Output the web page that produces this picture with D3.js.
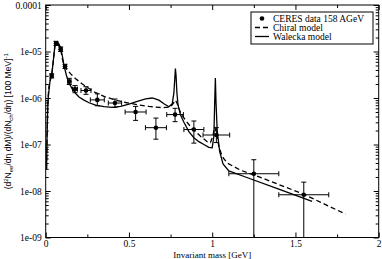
<!DOCTYPE html>
<html>
<head>
<meta charset="utf-8">
<script src="https://cdn.jsdelivr.net/npm/d3@7"></script>
<style>
  body { margin: 0; background: #fff; }
  svg { display: block; }
</style>
</head>
<body>
<script>
// CERES data points
const ceresMass = [0.036, 0.062, 0.09, 0.116, 0.142, 0.176, 0.242, 0.31, 0.416, 0.54, 0.662, 0.777, 0.89, 1.025, 1.25, 1.55];
const ceresYield = [3.0e-6, 1.5e-5, 1.12e-5, 4.8e-6, 2.27e-6, 1.55e-6, 1.45e-6, 9.1e-7, 7.8e-7, 5.0e-7, 2.3e-7, 4.4e-7, 2.1e-7, 1.6e-7, 2.35e-8, 8.3e-9];
const ceresMassErr = [0.008, 0.008, 0.008, 0.008, 0.01, 0.015, 0.03, 0.042, 0.04, 0.063, 0.063, 0.05, 0.06, 0.08, 0.15, 0.15];
const ceresYieldLo = [2.7e-6, 1.35e-5, 1.0e-5, 4.3e-6, 1.95e-6, 1.3e-6, 1.2e-6, 6.8e-7, 6.3e-7, 3.3e-7, 1.3e-7, 3.1e-7, 1.07e-7, 1.1e-7, 0, 0];
const ceresYieldHi = [3.3e-6, 1.65e-5, 1.25e-5, 5.3e-6, 2.65e-6, 1.85e-6, 1.75e-6, 1.23e-6, 9.5e-7, 6.6e-7, 3.7e-7, 6.0e-7, 3.2e-7, 2.3e-7, 4.7e-8, 1.55e-8];

// Chiral model (dashed)
const chiralMass = [0.005, 0.009, 0.013, 0.018, 0.028, 0.036, 0.045, 0.055, 0.063, 0.075, 0.09, 0.1, 0.11, 0.125, 0.15, 0.18, 0.22, 0.26, 0.3, 0.36, 0.42, 0.48, 0.55, 0.62, 0.7, 0.75, 0.77, 0.78, 0.79, 0.81, 0.84, 0.88, 0.93, 0.97, 0.99, 1.005, 1.015, 1.025, 1.04, 1.06, 1.09, 1.17, 1.3, 1.55, 1.8];
const chiralYield = [3e-8, 2e-7, 8e-7, 1.6e-6, 2.6e-6, 3.0e-6, 6e-6, 1.3e-5, 1.55e-5, 1.45e-5, 1.1e-5, 7e-6, 5e-6, 4.2e-6, 3.3e-6, 2.6e-6, 2e-6, 1.6e-6, 1.3e-6, 1.05e-6, 9e-7, 8e-7, 7.2e-7, 6.6e-7, 6.2e-7, 6.4e-7, 8e-7, 9e-7, 7.5e-7, 4.8e-7, 3.3e-7, 2.2e-7, 1.5e-7, 1.15e-7, 1.1e-7, 1.6e-7, 2.4e-7, 1.8e-7, 9e-8, 5.5e-8, 4e-8, 2.8e-8, 1.9e-8, 8.5e-9, 3.2e-9];

// Walecka model (solid)
const waleckaMass = [0.005, 0.008, 0.012, 0.016, 0.025, 0.036, 0.045, 0.055, 0.065, 0.075, 0.09, 0.1, 0.11, 0.125, 0.14, 0.16, 0.18, 0.2, 0.23, 0.26, 0.3, 0.35, 0.4, 0.45, 0.5, 0.55, 0.6, 0.64, 0.68, 0.71, 0.74, 0.76, 0.77, 0.775, 0.779, 0.783, 0.788, 0.795, 0.81, 0.83, 0.86, 0.89, 0.92, 0.95, 0.98, 1.0, 1.01, 1.015, 1.019, 1.023, 1.03, 1.045, 1.065, 1.1, 1.2, 1.4, 1.6];
const waleckaYield = [3e-8, 1.5e-7, 6e-7, 1.1e-6, 2.2e-6, 3.1e-6, 6e-6, 1.3e-5, 1.6e-5, 1.55e-5, 1.2e-5, 8e-6, 5e-6, 3e-6, 2.1e-6, 1.55e-6, 1.25e-6, 1.05e-6, 9e-7, 7.9e-7, 7e-7, 6.5e-7, 6.3e-7, 6.6e-7, 7.4e-7, 8.5e-7, 9.6e-7, 1e-6, 9e-7, 7.5e-7, 6.5e-7, 7.5e-7, 1.3e-6, 2.5e-6, 4.3e-6, 3e-6, 1.3e-6, 7e-7, 4.3e-7, 3e-7, 1.9e-7, 1.4e-7, 1.15e-7, 1e-7, 8.7e-8, 8.5e-8, 1.5e-7, 8e-7, 2.7e-6, 8e-7, 2e-7, 7e-8, 3.8e-8, 2.7e-8, 2e-8, 1.1e-8, 6e-9];

const xTicks = [0, 0.5, 1, 1.5, 2];
const xTickLabels = ['0', '0.5', '1', '1.5', '2'];
const yTicks = [1e-4, 1e-5, 1e-6, 1e-7, 1e-8, 1e-9];
const yTickLabels = ['0.0001', '1e-05', '1e-06', '1e-07', '1e-08', '1e-09'];
const legendLabels = ['CERES data 158 AGeV', 'Chiral model', 'Walecka model'];

const width = 382;
const height = 259;
const plot = { left: 45.7, right: 378.7, top: 5, bottom: 237.5 };
const serif = '"Liberation Serif", "DejaVu Serif", serif';

const svg = d3.select('body').append('svg')
  .attr('width', width)
  .attr('height', height);

const x = d3.scaleLinear().domain([0, 2]).range([plot.left, plot.right]);
const y = d3.scaleLog().domain([1e-9, 1e-4]).range([plot.bottom, plot.top]);

svg.append('clipPath').attr('id', 'clip')
  .append('rect')
  .attr('x', plot.left).attr('y', plot.top)
  .attr('width', plot.right - plot.left).attr('height', plot.bottom - plot.top);

// Ticks on all four sides, pointing inwards
const minorX = d3.range(0, 2.01, 0.25).filter((v) => Math.abs(v * 2 - Math.round(v * 2)) > 1e-6);
const minorY = [];
for (let e = -9; e < -4; e++) {
  for (let k = 2; k < 10; k++) minorY.push(k * 10 ** e);
}

const axisBottom = d3.axisBottom(x).tickValues(xTicks).tickSize(-5).tickPadding(3)
  .tickFormat((d, i) => xTickLabels[i]);
const axisTop = d3.axisTop(x).tickValues(xTicks).tickSize(-5).tickFormat('');
const axisLeft = d3.axisLeft(y).tickValues(yTicks).tickSize(-5).tickPadding(4)
  .tickFormat((d, i) => yTickLabels[i]);
const axisRight = d3.axisRight(y).tickValues(yTicks).tickSize(-5).tickFormat('');

const drawAxis = function (axis, tx, ty) {
  const g = svg.append('g').attr('transform', `translate(${tx},${ty})`).call(axis);
  g.select('.domain').remove();
  g.selectAll('text').attr('font-family', serif).attr('font-size', 9.5).attr('fill', '#000');
  g.selectAll('line').attr('stroke', '#000');
  return g;
};

drawAxis(axisBottom, 0, plot.bottom);
drawAxis(axisTop, 0, plot.top);
drawAxis(axisLeft, plot.left, 0);
drawAxis(axisRight, plot.right, 0);
drawAxis(d3.axisBottom(x).tickValues(minorX).tickSize(-3).tickFormat(''), 0, plot.bottom);
drawAxis(d3.axisTop(x).tickValues(minorX).tickSize(-3).tickFormat(''), 0, plot.top);
drawAxis(d3.axisLeft(y).tickValues(minorY).tickSize(-3).tickFormat(''), plot.left, 0);
drawAxis(d3.axisRight(y).tickValues(minorY).tickSize(-3).tickFormat(''), plot.right, 0);

// Model curves
const curveLine = d3.line()
  .x((d) => x(d[0]))
  .y((d) => y(d[1]));

const curves = svg.append('g').attr('clip-path', 'url(#clip)');
curves.append('path')
  .datum(chiralMass.map((m, i) => [m, chiralYield[i]]))
  .attr('d', curveLine)
  .attr('fill', 'none')
  .attr('stroke', '#000')
  .attr('stroke-width', 1.3)
  .attr('stroke-dasharray', '5,3');
curves.append('path')
  .datum(waleckaMass.map((m, i) => [m, waleckaYield[i]]))
  .attr('d', curveLine)
  .attr('fill', 'none')
  .attr('stroke', '#000')
  .attr('stroke-width', 1.3);

// Error bars with caps, then the markers
const cap = 2.5;
const bars = curves.append('g').attr('stroke', '#000').attr('stroke-width', 1);
ceresMass.forEach((m, i) => {
  const cx = x(m);
  const cy = y(ceresYield[i]);
  const x0 = x(m - ceresMassErr[i]);
  const x1 = x(m + ceresMassErr[i]);
  const y0 = y(Math.max(ceresYieldLo[i], 1e-10));
  const y1 = y(ceresYieldHi[i]);
  bars.append('line').attr('x1', x0).attr('x2', x1).attr('y1', cy).attr('y2', cy);
  bars.append('line').attr('x1', x0).attr('x2', x0).attr('y1', cy - cap).attr('y2', cy + cap);
  bars.append('line').attr('x1', x1).attr('x2', x1).attr('y1', cy - cap).attr('y2', cy + cap);
  bars.append('line').attr('x1', cx).attr('x2', cx).attr('y1', y0).attr('y2', y1);
  bars.append('line').attr('x1', cx - cap).attr('x2', cx + cap).attr('y1', y1).attr('y2', y1);
  if (ceresYieldLo[i] > 0) {
    bars.append('line').attr('x1', cx - cap).attr('x2', cx + cap).attr('y1', y0).attr('y2', y0);
  }
});

svg.append('g').selectAll('circle')
  .data(ceresMass)
  .join('circle')
  .attr('cx', (d) => x(d))
  .attr('cy', (d, i) => y(ceresYield[i]))
  .attr('r', 2.3)
  .attr('fill', '#000');

// Frame
svg.append('rect')
  .attr('x', plot.left).attr('y', plot.top)
  .attr('width', plot.right - plot.left).attr('height', plot.bottom - plot.top)
  .attr('fill', 'none')
  .attr('stroke', '#000')
  .attr('stroke-width', 1);

// Axis titles
svg.append('text')
  .attr('x', (plot.left + plot.right) / 2)
  .attr('y', 257.5)
  .attr('text-anchor', 'middle')
  .attr('font-family', serif)
  .attr('font-size', 9)
  .text('Invariant mass [GeV]');

const yTitle = svg.append('text')
  .attr('transform', `translate(11,${(plot.top + plot.bottom) / 2}) rotate(-90)`)
  .attr('text-anchor', 'middle')
  .attr('font-family', '"Liberation Sans", Arial, sans-serif')
  .attr('font-size', 8.5);
yTitle.append('tspan').text('(d');
yTitle.append('tspan').attr('font-size', 6).attr('dy', -3).text('2');
yTitle.append('tspan').attr('dy', 3).text('N');
yTitle.append('tspan').attr('font-size', 6).attr('dy', 2).text('ee');
yTitle.append('tspan').attr('dy', -2).text('/dη dM)/(dN');
yTitle.append('tspan').attr('font-size', 6).attr('dy', 2).text('ch');
yTitle.append('tspan').attr('dy', -2).text('/dη) [100 MeV]');
yTitle.append('tspan').attr('font-size', 6).attr('dy', -3).text('-1');

// Legend
const legend = svg.append('g');
const lg = { left: 251, top: 12, width: 122, rowHeight: 9 };
legend.append('rect')
  .attr('x', lg.left).attr('y', lg.top)
  .attr('width', lg.width).attr('height', lg.rowHeight * 3 + 5)
  .attr('fill', '#fff')
  .attr('stroke', '#000')
  .attr('stroke-width', 1);
legendLabels.forEach((label, i) => {
  const ry = lg.top + 6.5 + i * lg.rowHeight;
  if (i === 0) {
    legend.append('circle').attr('cx', lg.left + 11).attr('cy', ry).attr('r', 2.3).attr('fill', '#000');
  } else {
    legend.append('line')
      .attr('x1', lg.left + 4).attr('x2', lg.left + 18)
      .attr('y1', ry).attr('y2', ry)
      .attr('stroke', '#000')
      .attr('stroke-width', 1.3)
      .attr('stroke-dasharray', i === 1 ? '5,3' : null);
  }
  legend.append('text')
    .attr('x', lg.left + 22)
    .attr('y', ry + 3.2)
    .attr('font-family', serif)
    .attr('font-size', 9.5)
    .text(label);
});
</script>
</body>
</html>
